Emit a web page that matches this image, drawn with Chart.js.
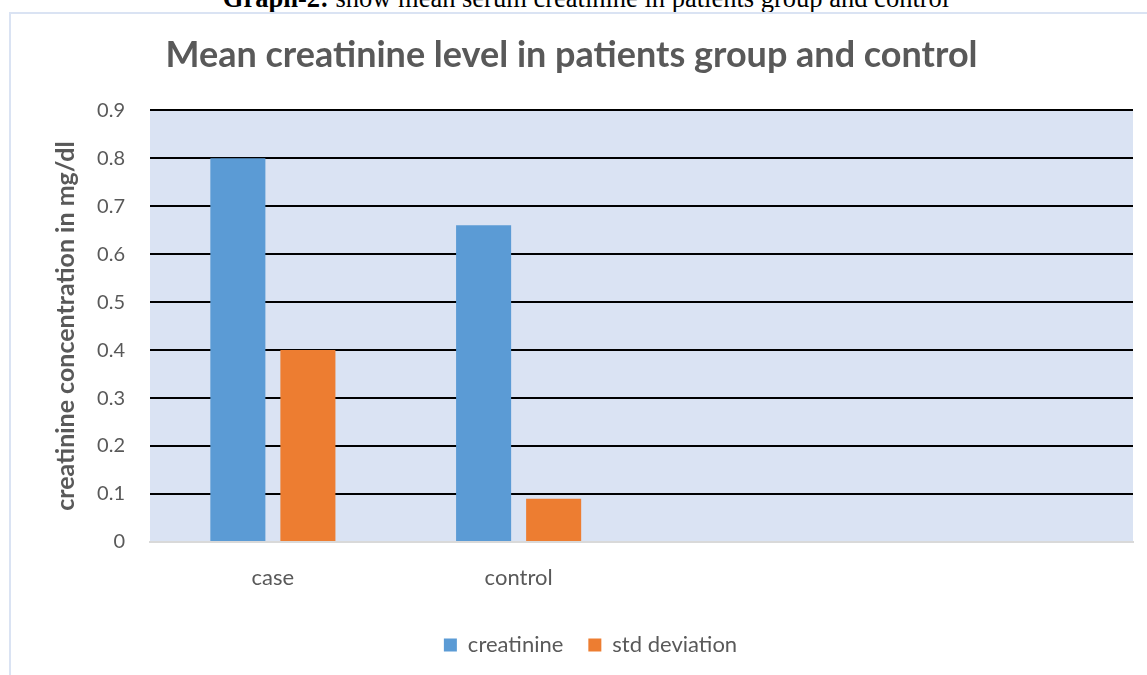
<!DOCTYPE html>
<html>
<head>
<meta charset="utf-8">
<script src="https://cdn.jsdelivr.net/npm/chart.js@4"></script>
<style>
  html, body { margin: 0; padding: 0; background: #fff; }
  body { width: 1147px; height: 675px; position: relative; overflow: hidden; }
  #caption {
    position: absolute; left: 0; width: 1172px; top: -15px;
    text-align: center; font-family: "Liberation Serif", serif; font-size: 26.5px;
    color: #000; white-space: nowrap; line-height: 26.5px;
  }
  #frame {
    position: absolute; left: 9px; top: 12px; width: 1160px; height: 700px;
    border: 2px solid #DAE3F3; box-sizing: border-box;
  }
  #wrap { position: absolute; left: 0; top: 0; width: 1147px; height: 675px; }
</style>
</head>
<body>
<div id="caption"><b>Graph-2:</b> show mean serum creatinine in patients group and control</div>
<div id="frame"></div>
<div id="wrap"><canvas id="chart" width="1147" height="675"></canvas></div>
<script>
const categories = ['case', 'control', '', ''];
const creatinine = [0.8, 0.66, null, null];
const stdDeviation = [0.4, 0.09, null, null];
const yTicks = ['0', '0.1', '0.2', '0.3', '0.4', '0.5', '0.6', '0.7', '0.8', '0.9'];

const grey = '#595959';
const font = 'Lato';

// light blue plot area like the spreadsheet chart
const plotBg = {
  id: 'plotBg',
  beforeDraw(chart) {
    const a = chart.chartArea;
    const c = chart.ctx;
    c.save();
    c.fillStyle = '#DAE3F3';
    c.fillRect(a.left, a.top, a.right - a.left, a.bottom - a.top);
    c.restore();
    // legend sits a bit right of the title in the original
    if (chart.legend && !chart.legend._shifted) {
      chart.legend.left += 19;
      chart.legend.right += 19;
      chart.legend._shifted = true;
    }
  }
};

new Chart(document.getElementById('chart').getContext('2d'), {
  type: 'bar',
  data: {
    labels: categories,
    datasets: [
      { label: 'creatinine', data: creatinine, backgroundColor: '#5B9BD5' },
      { label: 'std deviation', data: stdDeviation, backgroundColor: '#ED7D31' }
    ]
  },
  plugins: [plotBg],
  options: {
    responsive: false,
    animation: false,
    categoryPercentage: 0.57,
    barPercentage: 0.786,
    layout: { padding: { left: 10, right: 14, top: 0, bottom: 9 } },
    plugins: {
      title: {
        display: true,
        text: 'Mean creatinine level in patients group and control',
        color: grey,
        font: { family: font, size: 36, weight: 'bold' },
        padding: { top: 34, bottom: 33 }
      },
      legend: {
        position: 'bottom',
        labels: {
          color: grey,
          font: { family: font, size: 22 },
          boxWidth: 13, boxHeight: 13,
          padding: 25
        }
      },
      tooltip: { enabled: false }
    },
    scales: {
      x: {
        grid: { display: false },
        border: { color: '#D9D9D9', width: 2 },
        ticks: { color: grey, font: { family: font, size: 22 }, padding: 15 },
        afterFit(s) { s.height = 67; }
      },
      y: {
        min: 0, max: 0.9,
        border: { display: false },
        grid: {
          color: c => c.tick && c.tick.value === 0 ? 'rgba(0,0,0,0)' : '#000',
          lineWidth: 2,
          drawTicks: false
        },
        ticks: {
          stepSize: 0.1,
          color: grey,
          font: { family: font, size: 20 },
          padding: 25,
          callback: (v, i) => yTicks[i]
        },
        title: {
          display: true,
          text: 'creatinine concentration in mg/dl',
          color: grey,
          font: { family: font, size: 25, weight: 'bold' },
          padding: { top: 41, bottom: 0 }
        },
        afterFit(s) { s.width = 140; }
      }
    }
  }
});
</script>
</body>
</html>
